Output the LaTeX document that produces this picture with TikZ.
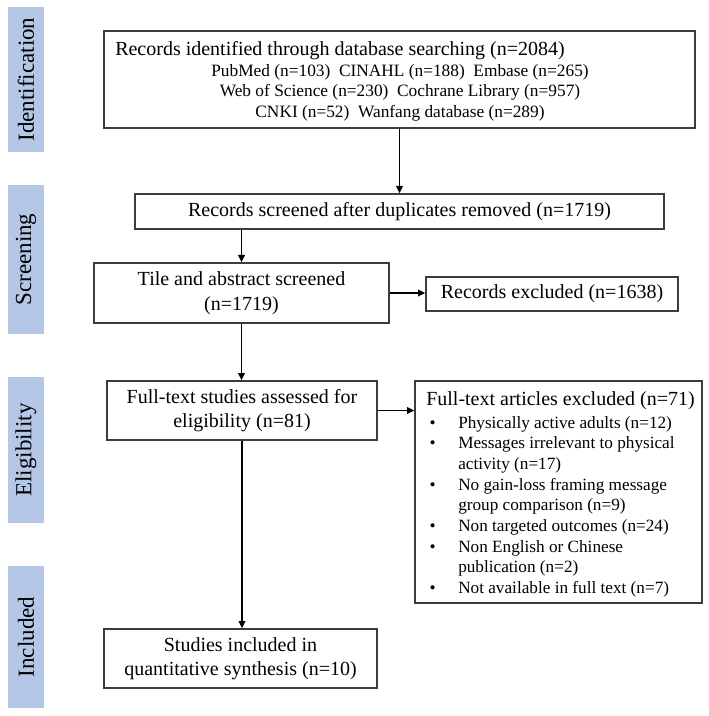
\documentclass[tikz,border=0pt]{standalone}
\usepackage{fontspec}
\setmainfont{Liberation Serif}
\usetikzlibrary{arrows.meta}
\definecolor{barblue}{RGB}{180,199,231}
\definecolor{linegray}{RGB}{60,60,60}
\newcommand{\pbul}{\hspace*{2.6pt}\makebox[21.4pt][l]{\textbullet}}
\newcommand{\pind}{\hspace*{24pt}}
\begin{document}
\begin{tikzpicture}[x=0.75pt,y=-0.75pt,
  box/.style={draw=linegray, line width=1pt, fill=white, inner sep=0pt, align=center, font=\fontsize{15}{18.4}\selectfont},
  bar/.style={fill=barblue, draw=none, rotate=90, inner sep=0pt, minimum height=27pt, font=\fontsize{17.25}{20}\selectfont},
  arr/.style={-{Triangle[length=5.5pt,width=5pt]}, line width=1pt, draw=black},
  txt/.style={inner sep=0pt}]
\useasboundingbox (0,0) rectangle (708,716);
\fill[white] (0,0) rectangle (708,716);

% side bars
\node[bar, minimum width=108.75pt] (sid) at (26,79.5) {Identification};
\node[bar, minimum width=111.75pt] (sscr) at (26,259.5) {Screening};
\node[bar, minimum width=109.5pt] (selig) at (26,450) {Eligibility};
\node[bar, minimum width=106.5pt] (sinc) at (26,637) {Included};

% boxes
\node[box, minimum width=443.25pt, minimum height=72.75pt] (b1) at (399.5,79.5) {};
\node[txt, anchor=base west, font=\fontsize{15}{18}\selectfont] (b1t) at (115,55.6) {Records identified through database searching (n=2084)};
\node[txt, align=center, font=\fontsize{13}{15.4}\selectfont] (b1s) at (400,92.5) {PubMed (n=103)\ \ CINAHL (n=188)\ \ Embase (n=265)\\Web of Science (n=230)\ \ Cochrane Library (n=957)\\CNKI (n=52)\ \ Wanfang database (n=289)};

\node[box, minimum width=396.75pt, minimum height=26.25pt] (b2) at (399.5,211.5) {Records screened after duplicates removed (n=1719)};
\node[box, minimum width=221.25pt, minimum height=45pt, font=\fontsize{15}{18.75}\selectfont] (b3) at (241.5,293) {Tile and abstract screened\\(n=1719)};
\node[box, minimum width=189pt, minimum height=25.5pt] (b7) at (552,294) {Records excluded (n=1638)};
\node[box, minimum width=202.5pt, minimum height=44.25pt, font=\fontsize{15}{18}\selectfont] (b4) at (242,410.5) {Full-text studies assessed for\\eligibility (n=81)};
\node[box, minimum width=215.25pt, minimum height=166.5pt] (b5) at (558.5,492) {};
\node[txt, anchor=north west, align=left, font=\fontsize{12.9}{15.5}\selectfont] (b5t) at (426,391) {{\fontsize{15}{18}\selectfont Full-text articles excluded (n=71)}\\[1.75pt]
\pbul Physically active adults (n=12)\\
\pbul Messages irrelevant to physical\\
\pind activity (n=17)\\
\pbul No gain-loss framing message\\
\pind group comparison (n=9)\\
\pbul Non targeted outcomes (n=24)\\
\pbul Non English or Chinese\\
\pind publication (n=2)\\
\pbul Not available in full text (n=7)};
\node[box, minimum width=204.75pt, minimum height=44.25pt, font=\fontsize{15}{18}\selectfont] (b6) at (240.5,658.5) {Studies included in\\quantitative synthesis (n=10)};

% connectors
\draw[arr] (b1.south) -- (b2.north);
\draw[arr] (b2.south -| b3.north) -- (b3.north);
\draw[arr] (b3.east) -- (b3.east -| b7.west);
\draw[arr] (b3.south) -- (b3.south |- b4.north);
\draw[arr] (b4.east) -- (b4.east -| b5.west);
\draw[arr] (b4.south) -- (b4.south |- b6.north);
\end{tikzpicture}
\end{document}
